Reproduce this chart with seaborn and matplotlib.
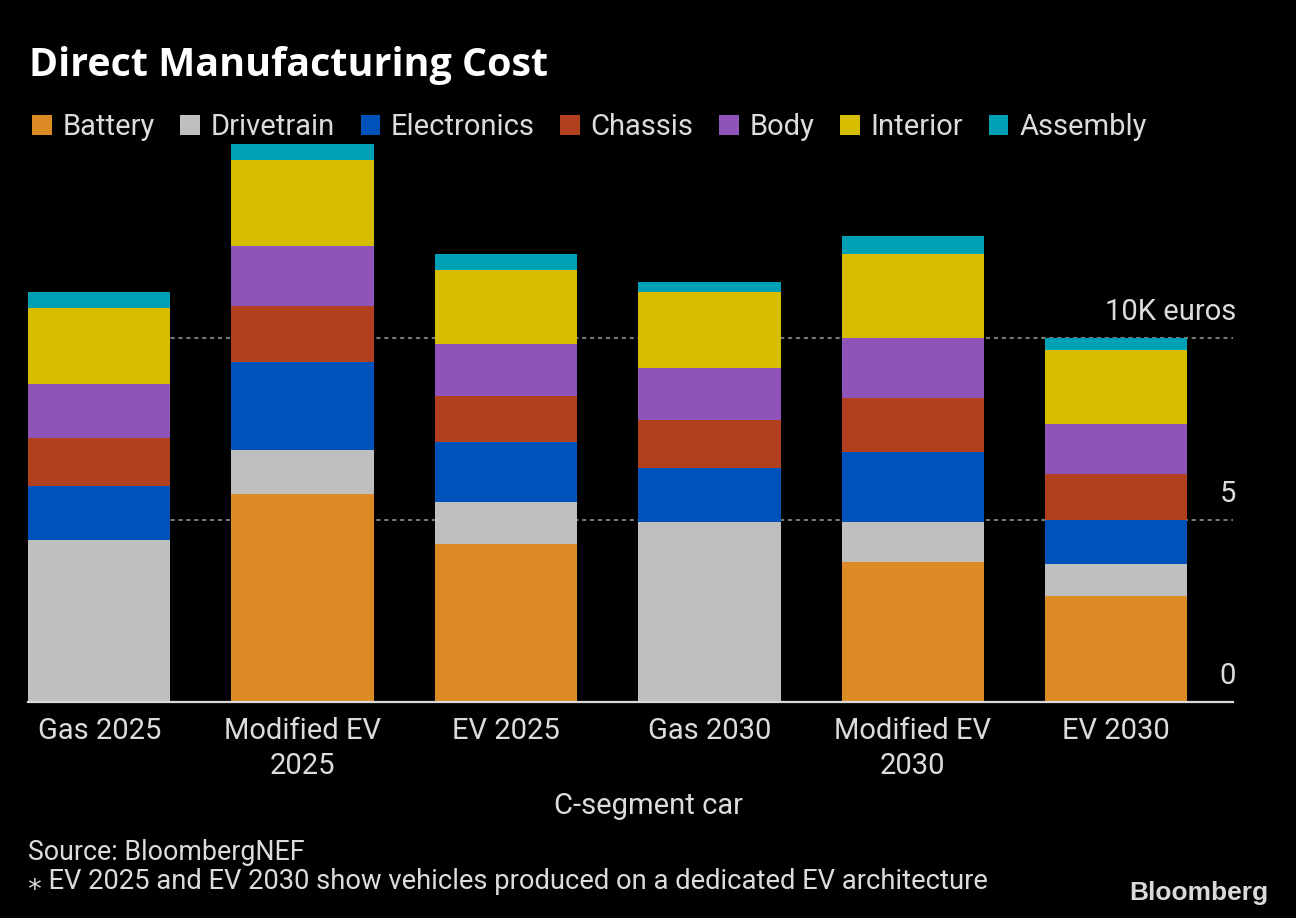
import numpy as np
import pandas as pd
import matplotlib.pyplot as plt
from matplotlib.patches import Patch
import seaborn as sns

# data (thousand euros)
cars = ["Gas 2025", "Modified EV\n2025", "EV 2025", "Gas 2030", "Modified EV\n2030", "EV 2030"]
parts = ["Battery", "Drivetrain", "Electronics", "Chassis", "Body", "Interior", "Assembly"]

battery     = [0.00, 5.71, 4.34, 0.00, 3.85, 2.91]
drivetrain  = [4.45, 1.21, 1.15, 4.95, 1.10, 0.88]
electronics = [1.48, 2.42, 1.65, 1.48, 1.92, 1.21]
chassis     = [1.32, 1.54, 1.27, 1.32, 1.48, 1.26]
body        = [1.48, 1.65, 1.43, 1.43, 1.65, 1.38]
interior    = [2.09, 2.36, 2.03, 2.08, 2.31, 2.03]
assembly    = [0.44, 0.44, 0.44, 0.27, 0.49, 0.33]

colors = ["#dc8a24", "#bfbfbf", "#0052bb", "#b0401e", "#8f54b8", "#d6bd00", "#00a0b4"]
yticks = [0, 5, 10]
ylabels = ["0", "5", "10K euros"]

df = pd.DataFrame({"car": cars, "Battery": battery, "Drivetrain": drivetrain,
                   "Electronics": electronics, "Chassis": chassis, "Body": body,
                   "Interior": interior, "Assembly": assembly})

sns.set_theme(style="white")
plt.rcParams["font.family"] = ["Roboto", "DejaVu Sans"]
txt = "#dcdcdc"

fig = plt.figure(figsize=(12.96, 9.18), dpi=100, facecolor="black")
ax = fig.add_axes([28 / 1296, 1 - 702 / 918, 1205 / 1296, (702 - 137.8) / 918])
ax.set_facecolor("black")

bottom = np.zeros(len(cars))
for part, c in zip(parts, colors):
    sns.barplot(x=df["car"], y=df[part], bottom=bottom, color=c, saturation=1,
                width=0.7, errorbar=None, linewidth=0, ax=ax)
    bottom += df[part].values

ax.set_xlim(-0.35, 5.574)
ax.set_ylim(0, 15.5)
ax.set_yticks(yticks)
ax.set_yticklabels([])
ax.tick_params(axis="y", length=0)
ax.tick_params(axis="x", length=0, pad=11, labelsize=21, labelcolor=txt)
for t in ax.get_xticklabels():
    t.set_linespacing(1.3)
ax.set_xlabel("")
ax.set_ylabel("")
ax.yaxis.grid(True, linestyle=(0, (2, 1.8)), color="#777777", linewidth=1.5)
ax.set_axisbelow(True)
for s in ["top", "right", "left"]:
    ax.spines[s].set_visible(False)
ax.spines["bottom"].set_color("#d9d9d9")
ax.spines["bottom"].set_linewidth(1.6)

for v, lab in zip(yticks, ylabels):
    ax.annotate(lab, xy=(1, v), xycoords=("axes fraction", "data"),
                xytext=(2, 13), textcoords="offset points",
                ha="right", va="baseline", fontsize=21, color=txt)

# title, legend, footer
fig.text(29 / 1296, 1 - 76 / 918, "Direct Manufacturing Cost", fontsize=28.4,
         fontweight="bold", color="white", ha="left", va="baseline",
         family=["Open Sans", "Roboto", "DejaVu Sans"])

handles = [Patch(facecolor=c, edgecolor="none", label=p) for p, c in zip(parts, colors)]
fig.legend(handles=handles, loc="center left", bbox_to_anchor=(32 / 1296, 1 - 127 / 918),
           ncol=7, frameon=False, fontsize=21, labelcolor=txt, handlelength=0.67,
           handleheight=0.67, handletextpad=0.37, columnspacing=0.88,
           borderpad=0, borderaxespad=0)

fig.text(0.5, 1 - 814 / 918, "C-segment car", fontsize=21, color=txt,
         ha="center", va="baseline")
fig.text(28 / 1296, 1 - 860 / 918, "Source: BloombergNEF", fontsize=19.3, color=txt,
         ha="left", va="baseline")
fig.text(28 / 1296, 1 - 889 / 918,
         "\u204e EV 2025 and EV 2030 show vehicles produced on a dedicated EV architecture",
         fontsize=19.7, color=txt, ha="left", va="baseline")
fig.text(1268 / 1296, 1 - 900 / 918, "Bloomberg", fontsize=19, fontweight="bold",
         color="#d9d9d9", ha="right", va="baseline",
         family=["Liberation Sans", "DejaVu Sans"])

fig.savefig("out.png", dpi=100, facecolor="black")
